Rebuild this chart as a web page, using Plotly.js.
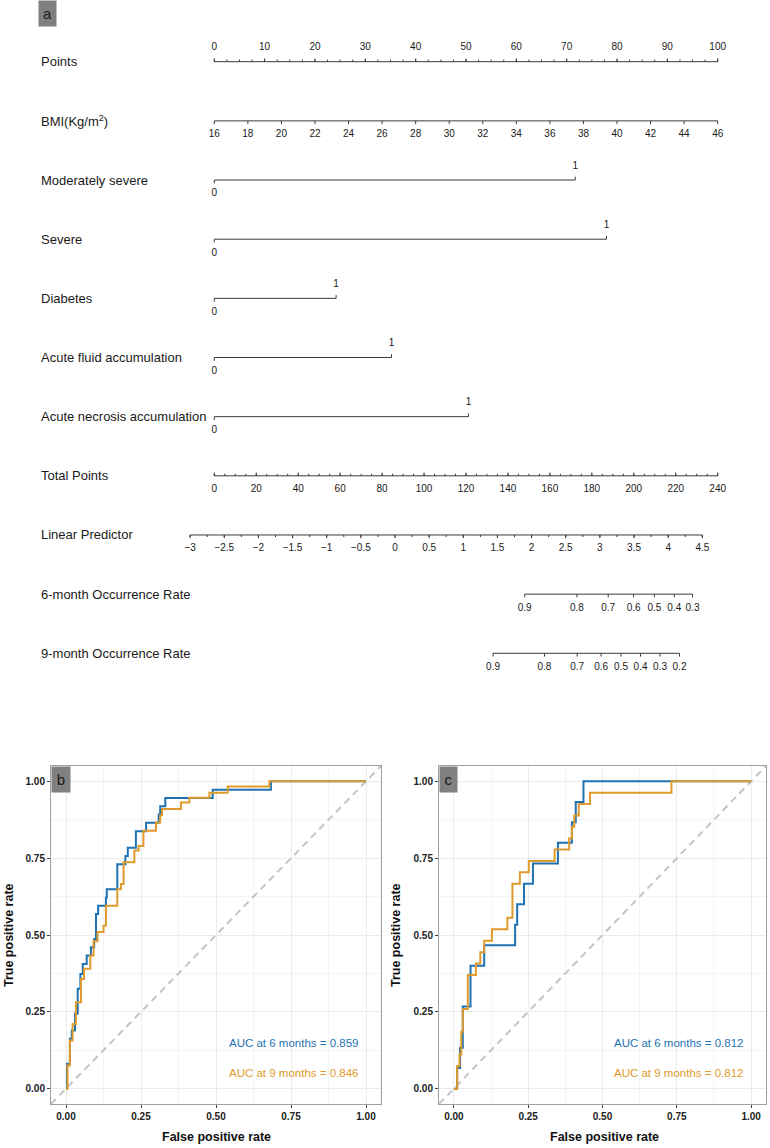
<!DOCTYPE html>
<html>
<head>
<meta charset="utf-8">
<script src="https://cdn.plot.ly/plotly-3.0.1.min.js"></script>
<style>html,body{margin:0;padding:0;background:#fff;}#chart{width:770px;height:1148px;}</style>
</head>
<body>
<div id="chart"></div>
<script>
// ---------------- Nomogram data ----------------
const rowLabels = ['Points', 'BMI(Kg/m<sup>2</sup>)', 'Moderately severe', 'Severe', 'Diabetes',
  'Acute fluid accumulation', 'Acute necrosis accumulation', 'Total Points', 'Linear Predictor',
  '6-month Occurrence Rate', '9-month Occurrence Rate'];
const pointsTicks = [0, 10, 20, 30, 40, 50, 60, 70, 80, 90, 100];
const pointsMinorStep = 2.5;
const bmiTicks = [16, 18, 20, 22, 24, 26, 28, 30, 32, 34, 36, 38, 40, 42, 44, 46];
const bmiMin = 16, bmiMax = 46;
const binaryVars = ['Moderately severe', 'Severe', 'Diabetes', 'Acute fluid accumulation', 'Acute necrosis accumulation'];
const binaryPoints = [71.7, 77.9, 24.2, 35.2, 50.5];
const totalTicks = [0, 20, 40, 60, 80, 100, 120, 140, 160, 180, 200, 220, 240];
const totalMinorStep = 5;
const totalMax = 240;
const lpTicks = [-3, -2.5, -2, -1.5, -1, -0.5, 0, 0.5, 1, 1.5, 2, 2.5, 3, 3.5, 4, 4.5];
const lpAtZeroTotal = -2.646;
const totalPerLP = 32.56;
const rate6Labels = ['0.9', '0.8', '0.7', '0.6', '0.5', '0.4', '0.3'];
const rate6Total = [148.0, 172.9, 187.8, 199.9, 209.8, 219.3, 228.0];
const rate9Labels = ['0.9', '0.8', '0.7', '0.6', '0.5', '0.4', '0.3', '0.2'];
const rate9Total = [132.9, 157.4, 173.0, 184.4, 193.9, 203.2, 212.5, 221.8];

// ---------------- ROC data ----------------
const rocB6Fpr = [0, 0.003, 0.013, 0.019, 0.030, 0.039, 0.048, 0.056, 0.069, 0.083, 0.094, 0.100, 0.107, 0.133, 0.136, 0.171, 0.198, 0.206, 0.233, 0.267, 0.309, 0.314, 0.331, 0.489, 0.683, 1];
const rocB6Tpr = [0, 0.081, 0.162, 0.189, 0.244, 0.325, 0.373, 0.406, 0.433, 0.460, 0.487, 0.568, 0.595, 0.622, 0.649, 0.730, 0.757, 0.784, 0.838, 0.865, 0.892, 0.919, 0.946, 0.973, 1.0, 1.0];
const rocB9Fpr = [0, 0.005, 0.013, 0.022, 0.033, 0.050, 0.060, 0.081, 0.092, 0.105, 0.125, 0.133, 0.171, 0.183, 0.192, 0.228, 0.242, 0.258, 0.300, 0.314, 0.320, 0.383, 0.411, 0.478, 0.539, 0.678, 1];
const rocB9Tpr = [0, 0.075, 0.157, 0.210, 0.281, 0.357, 0.390, 0.433, 0.480, 0.510, 0.530, 0.595, 0.649, 0.666, 0.737, 0.775, 0.790, 0.839, 0.866, 0.890, 0.910, 0.931, 0.947, 0.963, 0.983, 1.0, 1.0];
const rocC6Fpr = [0, 0.011, 0.021, 0.030, 0.056, 0.102, 0.206, 0.213, 0.236, 0.266, 0.350, 0.397, 0.410, 0.436, 1];
const rocC6Tpr = [0, 0.067, 0.133, 0.267, 0.400, 0.467, 0.533, 0.600, 0.667, 0.733, 0.800, 0.867, 0.933, 1.0, 1.0];
const rocC9Fpr = [0, 0.011, 0.019, 0.025, 0.030, 0.047, 0.074, 0.089, 0.102, 0.128, 0.180, 0.197, 0.222, 0.252, 0.339, 0.388, 0.397, 0.405, 0.420, 0.458, 0.732, 1];
const rocC9Tpr = [0, 0.074, 0.111, 0.185, 0.259, 0.370, 0.407, 0.444, 0.481, 0.519, 0.556, 0.667, 0.704, 0.741, 0.778, 0.815, 0.852, 0.889, 0.926, 0.963, 1.0, 1.0];
const aucTextB = ['AUC at 6 months = 0.859', 'AUC at 9 months = 0.846'];
const aucTextC = ['AUC at 6 months = 0.812', 'AUC at 9 months = 0.812'];
const panelLabels = ['a', 'b', 'c'];

// ---------------- styles ----------------
const FONT = 'Liberation Sans, Arial, Helvetica, sans-serif';
const BLUE = '#1f72b2';
const ORANGE = '#de9a2c';
const NOMO_LINE = '#3a3a3a';
const TICK_MAJ = 0.055, TICK_MIN = 0.035, LAB_OFF = 0.235;

// ---------------- build nomogram ----------------
const segX = [], segY = [];
const labX = [], labY = [], labT = [];
function seg(x0, y0, x1, y1) { segX.push(x0, x1, null); segY.push(y0, y1, null); }
function axisRow(row, xs, labels, dir, minorXs, labDir) {
  // dir: -1 ticks up, +1 ticks down (y axis reversed)
  seg(Math.min(...xs.concat(minorXs || [])), row, Math.max(...xs.concat(minorXs || [])), row);
  xs.forEach((x, i) => {
    seg(x, row, x, row + dir * TICK_MAJ);
    labX.push(x); labY.push(row + (labDir || dir) * LAB_OFF); labT.push(labels[i]);
  });
  (minorXs || []).forEach(x => seg(x, row, x, row + dir * TICK_MIN));
}
const totToX = t => t * 100 / totalMax;
const minorRange = (a, b, s) => { const r = []; for (let v = a; v <= b + 1e-9; v += s) r.push(+v.toFixed(4)); return r; };

// row 0: Points
axisRow(0, pointsTicks, pointsTicks.map(String), -1, minorRange(0, 100, pointsMinorStep));
// row 1: BMI
axisRow(1, bmiTicks.map(b => (b - bmiMin) / (bmiMax - bmiMin) * 100), bmiTicks.map(String), 1, []);
// rows 2-6: binary vars
binaryVars.forEach((name, i) => {
  const row = 2 + i, xe = binaryPoints[i];
  seg(0, row, xe, row);
  seg(0, row, 0, row + TICK_MAJ);
  seg(xe, row, xe, row - TICK_MAJ);
  labX.push(0, xe); labY.push(row + LAB_OFF, row - LAB_OFF); labT.push('0', '1');
});
// row 7: Total points
axisRow(7, totalTicks.map(totToX), totalTicks.map(String), -1, minorRange(0, totalMax, totalMinorStep).map(totToX), 1);
// row 8: Linear predictor
const lpToX = v => totToX((v - lpAtZeroTotal) * totalPerLP);
axisRow(8, lpTicks.map(lpToX), lpTicks.map(v => String(v).replace('-', '\u2212')), 1,
  minorRange(-3, 4.5, 0.25).map(lpToX));
// rows 9, 10: rates
axisRow(9, rate6Total.map(totToX), rate6Labels, 1, []);
axisRow(10, rate9Total.map(totToX), rate9Labels, 1, []);

const traces = [];
traces.push({ x: segX, y: segY, xaxis: 'x3', yaxis: 'y3', mode: 'lines', type: 'scatter',
  line: { color: NOMO_LINE, width: 1 }, hoverinfo: 'skip', showlegend: false, cliponaxis: false });
traces.push({ x: labX, y: labY, xaxis: 'x3', yaxis: 'y3', mode: 'text', type: 'scatter', text: labT,
  textposition: 'middle center', textfont: { family: FONT, size: 10, color: '#1a1a1a' },
  hoverinfo: 'skip', showlegend: false, cliponaxis: false });

// ---------------- ROC traces ----------------
function diag(xa, ya) {
  return { x: [-0.05, 1.05], y: [-0.05, 1.05], xaxis: xa, yaxis: ya, mode: 'lines', type: 'scatter',
    line: { color: '#c4c4c4', width: 2, dash: '7px,5px' }, hoverinfo: 'skip', showlegend: false };
}
function curve(xs, ys, color, xa, ya) {
  return { x: xs, y: ys, xaxis: xa, yaxis: ya, mode: 'lines', type: 'scatter',
    line: { color: color, width: 2, shape: 'hv' }, hoverinfo: 'skip', showlegend: false };
}
traces.push(diag('x', 'y'), curve(rocB6Fpr, rocB6Tpr, BLUE, 'x', 'y'), curve(rocB9Fpr, rocB9Tpr, ORANGE, 'x', 'y'));
traces.push(diag('x2', 'y2'), curve(rocC6Fpr, rocC6Tpr, BLUE, 'x2', 'y2'), curve(rocC9Fpr, rocC9Tpr, ORANGE, 'x2', 'y2'));

// ---------------- layout ----------------
const W = 770, H = 1148;
const ptsPx0 = 214.3, ptsPxPerUnit = 5.034;
const rowPx0 = 61.7, rowPxStep = 59.16, nomoPxH = 700;

function rocX(d0, d1, anchor) {
  return { domain: [d0 / W, d1 / W], range: [-0.05, 1.05], anchor: anchor, showline: true, mirror: true,
    linecolor: '#a0a0a0', linewidth: 1, ticks: 'outside', ticklen: 3, tickcolor: '#444', tickwidth: 1,
    tickvals: [0, 0.25, 0.5, 0.75, 1], tickformat: '.2f', showgrid: true, gridcolor: '#ebebeb', gridwidth: 1,
    minor: { tickvals: [0.125, 0.375, 0.625, 0.875], showgrid: true, gridcolor: '#f4f4f4', gridwidth: 1, ticks: '' },
    zeroline: false, tickfont: { family: FONT, size: 10, color: '#222', weight: 'bold' }, fixedrange: true };
}
function rocY(anchor) {
  return { domain: [(H - 1104) / H, (H - 766) / H], range: [-0.05, 1.05], anchor: anchor, showline: true, mirror: true,
    linecolor: '#a0a0a0', linewidth: 1, ticks: 'outside', ticklen: 3, tickcolor: '#444', tickwidth: 1,
    tickvals: [0, 0.25, 0.5, 0.75, 1], tickformat: '.2f', showgrid: true, gridcolor: '#ebebeb', gridwidth: 1,
    minor: { tickvals: [0.125, 0.375, 0.625, 0.875], showgrid: true, gridcolor: '#f4f4f4', gridwidth: 1, ticks: '' },
    zeroline: false, tickfont: { family: FONT, size: 10, color: '#222', weight: 'bold' }, fixedrange: true };
}

const annotations = [];
// row labels
rowLabels.forEach((t, i) => annotations.push({ text: t, xref: 'x3', yref: 'y3', x: (39 - ptsPx0) / ptsPxPerUnit, y: i,
  xanchor: 'left', yanchor: 'middle', showarrow: false, font: { family: FONT, size: 13, color: '#1a1a1a' } }));
// panel label boxes
annotations.push({ text: panelLabels[0], xref: 'paper', yref: 'paper', x: 37.7 / W, y: 1, xanchor: 'left', yanchor: 'top',
  width: 17, height: 25, bgcolor: '#808080', borderpad: 0, showarrow: false, font: { family: FONT, size: 15, color: '#1a1a1a' } });
annotations.push({ text: panelLabels[1], xref: 'x domain', yref: 'y domain', x: 0, y: 1, xanchor: 'left', yanchor: 'top',
  width: 18, height: 25, bgcolor: '#808080', borderpad: 0, showarrow: false, font: { family: FONT, size: 15, color: '#1a1a1a' } });
annotations.push({ text: panelLabels[2], xref: 'x2 domain', yref: 'y2 domain', x: 0, y: 1, xanchor: 'left', yanchor: 'top',
  width: 17, height: 25, bgcolor: '#808080', borderpad: 0, showarrow: false, font: { family: FONT, size: 15, color: '#1a1a1a' } });
// AUC texts
[[aucTextB, 'x', 'y'], [aucTextC, 'x2', 'y2']].forEach(([txts, xa, ya]) => {
  annotations.push({ text: txts[0], xref: xa, yref: ya, x: 0.98, y: 0.149, xanchor: 'right', yanchor: 'middle', showarrow: false,
    font: { family: FONT, size: 11.5, color: BLUE } });
  annotations.push({ text: txts[1], xref: xa, yref: ya, x: 0.98, y: 0.051, xanchor: 'right', yanchor: 'middle', showarrow: false,
    font: { family: FONT, size: 11.5, color: ORANGE } });
});
// axis titles
[[9, 216.7], [396, 604.3]].forEach(([yx, xx]) => {
  annotations.push({ text: 'True positive rate', xref: 'paper', yref: 'paper', x: yx / W, y: (H - 935) / H, textangle: -90,
    xanchor: 'center', yanchor: 'middle', showarrow: false, font: { family: FONT, size: 12.5, color: '#111', weight: 'bold' } });
  annotations.push({ text: 'False positive rate', xref: 'paper', yref: 'paper', x: xx / W, y: (H - 1137) / H,
    xanchor: 'center', yanchor: 'middle', showarrow: false, font: { family: FONT, size: 12.5, color: '#111', weight: 'bold' } });
});

const layout = {
  width: W, height: H, margin: { l: 0, r: 0, t: 0, b: 0 }, paper_bgcolor: '#fff', plot_bgcolor: '#fff',
  showlegend: false, font: { family: FONT },
  xaxis: rocX(51, 381, 'y'), yaxis: rocY('x'),
  xaxis2: rocX(439, 766, 'y2'), yaxis2: rocY('x2'),
  xaxis3: { domain: [0, 1], range: [-ptsPx0 / ptsPxPerUnit, (W - ptsPx0) / ptsPxPerUnit], anchor: 'y3', visible: false, fixedrange: true },
  yaxis3: { domain: [1 - nomoPxH / H, 1], range: [(nomoPxH - rowPx0) / rowPxStep, -rowPx0 / rowPxStep], anchor: 'x3', visible: false, fixedrange: true },
  annotations: annotations
};
Plotly.newPlot('chart', traces, layout, { staticPlot: true, displayModeBar: false });
</script>
</body>
</html>
